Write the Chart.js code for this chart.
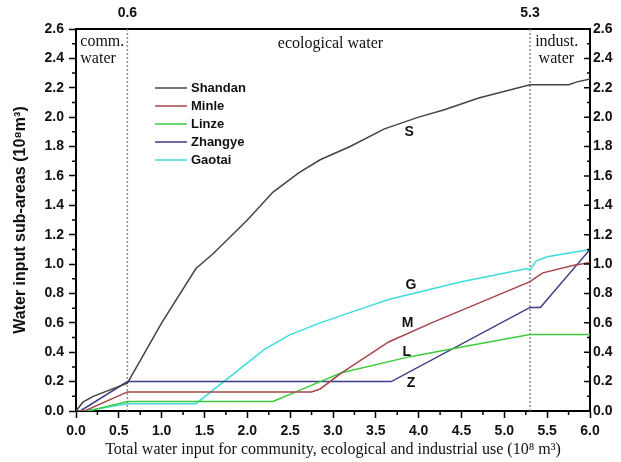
<!DOCTYPE html>
<html>
<head>
<meta charset="utf-8">
<script src="https://cdn.jsdelivr.net/npm/chart.js@4"></script>
<style>
  body { margin: 0; background: #fff; }
  canvas { display: block; }
</style>
</head>
<body>
<canvas id="chart" width="621" height="462"></canvas>
<script>
// Water input by sub-area: [total input, sub-area input]
const shandan = [[0, 0], [0.08, 0.06], [0.2, 0.1], [0.6, 0.19], [1.0, 0.6], [1.4, 0.97], [1.6, 1.07], [2.0, 1.3], [2.3, 1.49], [2.6, 1.62], [2.85, 1.71], [3.2, 1.8], [3.6, 1.92], [4.0, 2.0], [4.3, 2.05], [4.7, 2.13], [5.3, 2.22], [5.75, 2.22], [5.85, 2.24], [6.0, 2.26]];
const minle = [[0, 0], [0.1, 0], [0.6, 0.13], [2.75, 0.13], [2.85, 0.15], [3.1, 0.26], [3.65, 0.47], [4.15, 0.6], [5.3, 0.88], [5.37, 0.91], [5.45, 0.94], [5.8, 0.99], [6.0, 1.01]];
const linze = [[0, 0], [0.15, 0], [0.6, 0.065], [2.3, 0.065], [2.85, 0.2], [3.1, 0.26], [3.9, 0.37], [4.55, 0.44], [5.3, 0.52], [6.0, 0.52]];
const zhangye = [[0, 0], [0.05, 0], [0.6, 0.2], [3.68, 0.2], [5.3, 0.705], [5.42, 0.705], [6.0, 1.1]];
const gaotai = [[0, 0], [0.1, 0], [0.6, 0.05], [1.4, 0.05], [2.2, 0.42], [2.5, 0.52], [2.85, 0.6], [3.3, 0.69], [3.66, 0.76], [4.5, 0.88], [5.27, 0.97], [5.3, 0.96], [5.37, 1.02], [5.5, 1.05], [6.0, 1.1]];

const seriesNames = ['Shandan', 'Minle', 'Linze', 'Zhangye', 'Gaotai'];
const seriesColors = ['#444444', '#a5474c', '#3ccc3c', '#3d3d85', '#3cdcdc'];
const seriesLetters = [['S', 3.89, 1.9], ['M', 3.87, 0.6], ['L', 3.86, 0.4], ['Z', 3.91, 0.19], ['G', 3.91, 0.86]];

// boundaries between community / ecological / industrial use
const splitPoints = [0.6, 5.3];
const zoneLabels = [
  ['comm.', 0.05, 2.51, 'left'], ['water', 0.05, 2.4, 'left'],
  ['ecological water', 2.97, 2.5, 'center'],
  ['indust.', 5.36, 2.51, 'left'], ['water', 5.4, 2.4, 'left']
];

const toXY = arr => arr.map(([x, y]) => ({ x, y }));
const tickFont = { family: 'Liberation Sans, Arial, sans-serif', size: 14, weight: 'bold' };

const datasets = [shandan, minle, linze, zhangye, gaotai].map((d, i) => ({
  label: seriesNames[i],
  data: toXY(d),
  borderColor: seriesColors[i],
  borderWidth: 1.5,
  pointRadius: 0,
  tension: 0
}));
splitPoints.forEach(x => datasets.push({
  label: '',
  data: [{ x, y: 0 }, { x, y: 2.6 }],
  borderColor: '#8a8a8a',
  borderWidth: 1.5,
  borderDash: [2, 2],
  pointRadius: 0
}));

// extra drawing: minor ticks, inward right ticks, text labels, legend
const extras = {
  id: 'extras',
  afterDraw(chart) {
    const { ctx, chartArea: a, scales } = chart;
    const xs = scales.x, ys = scales.y;
    ctx.save();
    ctx.strokeStyle = '#000';
    ctx.lineWidth = 1.5;
    ctx.beginPath();
    for (let v = 0.25; v < 6; v += 0.5) {
      const px = xs.getPixelForValue(v);
      ctx.moveTo(px, a.bottom); ctx.lineTo(px, a.bottom + 4);
    }
    for (let v = 0.1; v < 2.6; v += 0.2) {
      const py = ys.getPixelForValue(v);
      ctx.moveTo(a.left, py); ctx.lineTo(a.left - 4, py);
      ctx.moveTo(a.right, py); ctx.lineTo(a.right - 3, py);
    }
    for (let v = 0.2; v < 2.6; v += 0.2) {
      const py = ys.getPixelForValue(v);
      ctx.moveTo(a.right, py); ctx.lineTo(a.right - 6, py);
    }
    ctx.stroke();

    ctx.fillStyle = '#111';
    ctx.textBaseline = 'middle';
    ctx.font = '16px "Liberation Serif", "Times New Roman", serif';
    zoneLabels.forEach(([t, x, y, al]) => {
      ctx.textAlign = al;
      ctx.fillText(t, xs.getPixelForValue(x), ys.getPixelForValue(y));
    });

    ctx.font = 'bold 14px "Liberation Sans", Arial, sans-serif';
    ctx.textAlign = 'center';
    seriesLetters.forEach(([t, x, y]) => {
      ctx.fillText(t, xs.getPixelForValue(x), ys.getPixelForValue(y));
    });

    ctx.font = 'bold 13px "Liberation Sans", Arial, sans-serif';
    ctx.textAlign = 'left';
    seriesNames.forEach((n, i) => {
      const y = a.top + 59 + i * 18;
      ctx.strokeStyle = seriesColors[i];
      ctx.lineWidth = 1.5;
      ctx.beginPath();
      ctx.moveTo(a.left + 79, y); ctx.lineTo(a.left + 111, y);
      ctx.stroke();
      ctx.fillText(n, a.left + 115, y);
    });
    ctx.restore();
  }
};

const frame = { display: true, color: '#000', width: 2 };

new Chart(document.getElementById('chart'), {
  type: 'line',
  data: { datasets },
  options: {
    responsive: false,
    animation: false,
    devicePixelRatio: 1,
    layout: { padding: 0 },
    plugins: { legend: { display: false }, tooltip: { enabled: false } },
    scales: {
      x: {
        type: 'linear', position: 'bottom', min: 0, max: 6,
        border: frame,
        grid: { drawOnChartArea: false, tickLength: 7, tickColor: '#000', tickWidth: 1.5 },
        ticks: { stepSize: 0.5, color: '#111', font: tickFont, padding: 5, maxRotation: 0, callback: v => v.toFixed(1) },
        title: {
          display: true, color: '#111',
          text: 'Total water input for community, ecological and industrial use (10⁸ m³)',
          font: { family: 'Liberation Serif, Times New Roman, serif', size: 16 },
          padding: { top: 0, bottom: 3 }
        },
        afterFit: s => { s.height = 51; }
      },
      x2: {
        type: 'linear', position: 'top', min: 0, max: 6,
        border: frame,
        grid: { drawOnChartArea: false, drawTicks: false },
        ticks: { color: '#111', font: tickFont, padding: 7, callback: v => v.toFixed(1) },
        afterBuildTicks: s => { s.ticks = splitPoints.map(v => ({ value: v })); },
        afterFit: s => { s.height = 29; }
      },
      y: {
        type: 'linear', position: 'left', min: 0, max: 2.6,
        border: frame,
        grid: { drawOnChartArea: false, tickLength: 7, tickColor: '#000', tickWidth: 1.5 },
        ticks: { stepSize: 0.2, color: '#111', font: tickFont, padding: 5, callback: v => v.toFixed(1) },
        title: {
          display: true, color: '#111',
          text: 'Water input sub-areas (10⁸m³)',
          font: { family: 'Liberation Sans, Arial, sans-serif', size: 16, weight: 'bold' },
          padding: { top: 11, bottom: 0 }
        },
        afterFit: s => { s.width = 76; }
      },
      y2: {
        type: 'linear', position: 'right', min: 0, max: 2.6,
        border: frame,
        grid: { drawOnChartArea: false, drawTicks: false },
        ticks: { stepSize: 0.2, color: '#111', font: tickFont, padding: 3, callback: v => v.toFixed(1) },
        afterFit: s => { s.width = 31; }
      }
    }
  },
  plugins: [extras]
});
</script>
</body>
</html>
